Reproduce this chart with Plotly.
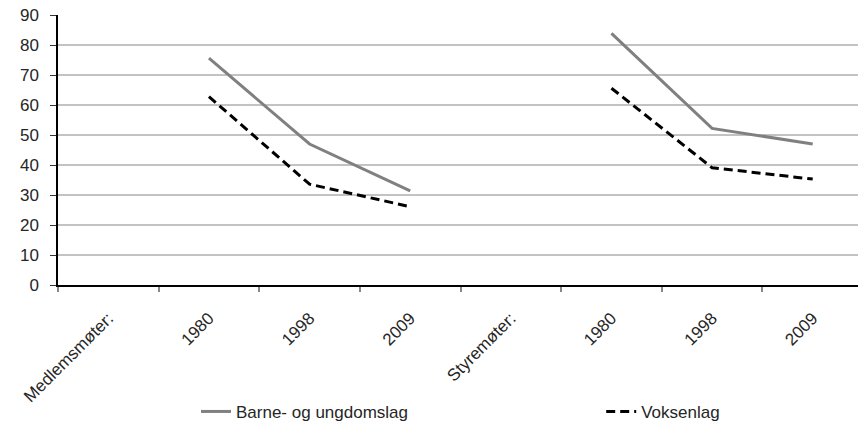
import plotly.graph_objects as go

categories = ["Medlemsmøter:", "1980", "1998", "2009", "Styremøter:", "1980", "1998", "2009"]
barne = [None, 75.6, 47.0, 31.4, None, 83.9, 52.2, 47.0]
voksen = [None, 62.8, 33.6, 26.1, None, 65.6, 39.1, 35.3]
y_ticks = [0, 10, 20, 30, 40, 50, 60, 70, 80, 90]
grid_vals = [10, 20, 30, 40, 50, 60, 70, 80]

xpos = list(range(len(categories)))
FONT = "Liberation Sans, Arial, sans-serif"
TXT = "#262626"
FS = 17

fig = go.Figure()
fig.add_trace(go.Scatter(x=xpos, y=barne, mode="lines", name="Barne- og ungdomslag",
                         line=dict(color="#808080", width=3), connectgaps=False,
                         legend="legend"))
fig.add_trace(go.Scatter(x=xpos, y=voksen, mode="lines", name="Voksenlag",
                         line=dict(color="#000000", width=3, dash="9px,5px"), connectgaps=False,
                         legend="legend2"))

for g in grid_vals:
    fig.add_shape(type="line", xref="paper", yref="y", x0=0, x1=1, y0=g, y1=g,
                  line=dict(color="#868686", width=1), layer="below")

fig.update_layout(
    width=858, height=426,
    margin=dict(l=58, r=0, t=15, b=141, autoexpand=False),
    paper_bgcolor="white", plot_bgcolor="white",
    font=dict(family=FONT, size=FS, color=TXT),
    showlegend=True,
    legend=dict(orientation="h", x=0.1725, xanchor="left", y=-0.47, yanchor="middle",
                font=dict(family=FONT, size=FS, color=TXT), bgcolor="rgba(0,0,0,0)"),
    legend2=dict(orientation="h", x=0.679, xanchor="left", y=-0.47, yanchor="middle",
                 font=dict(family=FONT, size=FS, color=TXT), bgcolor="rgba(0,0,0,0)"),
)
fig.update_xaxes(
    range=[-0.5, 7.45], showgrid=False, zeroline=False, automargin=False,
    showline=True, linecolor="#000000", linewidth=1.5,
    tickmode="array", tickvals=xpos, ticktext=categories,
    ticks="", tickangle=-45, ticklabelstandoff=15,
    minor=dict(tickmode="array", tickvals=[i - 0.5 for i in range(len(categories) + 1)],
               ticks="outside", ticklen=5, tickcolor="#888888", tickwidth=1.5, showgrid=False),
    tickfont=dict(family=FONT, size=FS, color=TXT),
)
fig.update_yaxes(
    range=[0, 90], tickmode="array", tickvals=y_ticks, showgrid=False, zeroline=False,
    automargin=False,
    showline=True, linecolor="#000000", linewidth=1.5,
    ticks="outside", ticklen=6, tickcolor="#333333", ticklabelstandoff=8,
    tickfont=dict(family=FONT, size=FS, color=TXT),
)

fig.write_html("out.html", config={"displayModeBar": False},
               post_script="document.body.style.margin='0';")
